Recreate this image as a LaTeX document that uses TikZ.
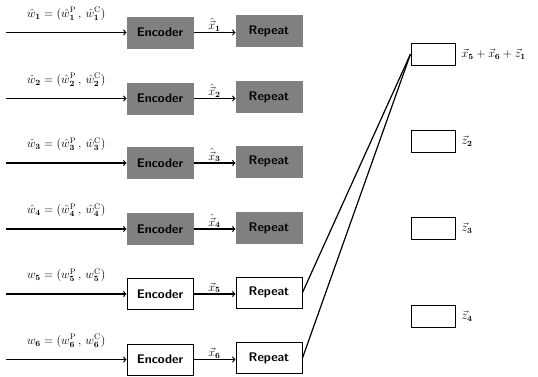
\documentclass[tikz,border=0pt]{standalone}
\usepackage{amsmath}
\usetikzlibrary{calc}
\begin{document}
\begin{tikzpicture}[x=1pt,y=-1pt,
  enc/.style={draw=black,line width=1pt,minimum width=66pt,minimum height=31pt,inner sep=0pt,font=\sffamily\bfseries\fontsize{12.5}{14}\selectfont},
  gray/.style={fill=black!50,draw=black!50},
  wht/.style={fill=white,draw=black},
  outbox/.style={draw=black,line width=1pt,minimum width=44pt,minimum height=22pt,inner sep=0pt},
  arr/.style={->,line width=1.2pt,>=to},
  lbl/.style={font=\fontsize{11.5}{13}\selectfont,inner sep=1pt},
  conn/.style={line width=1.2pt}]
\useasboundingbox (0,0) rectangle (538,376);
% rows
\foreach \i/\ye/\yr/\st in {1/32.5/31/gray,2/98.5/97/gray,3/163/161.5/gray,4/229/228/gray,5/294/292.5/wht,6/359.5/358/wht}{
  \node[enc,\st] (enc\i) at (160,\ye) {Encoder};
  \node[enc,\st] (rep\i) at (269,\yr) {Repeat};
  \coordinate (in\i) at (6,\ye);
  \draw[arr] (in\i) -- (enc\i.west);
  \draw[arr] (enc\i.east) -- (enc\i.east -| rep\i.west);
}
\foreach \i in {1,2,3,4}{
  \node[lbl,anchor=south] (xl\i) at ($(enc\i.east)!0.5!(enc\i.east -| rep\i.west)$) {$\hat{\vec{x}}_{\mathbf{\i}}$};
  \node[lbl,anchor=south] (wl\i) at ($(in\i)!0.5!(enc\i.west)+(0,-11)$) {$\hat{w}_{\mathbf{\i}}=(\hat{w}_{\mathbf{\i}}^{\mathrm{P}}\,,\,\hat{w}_{\mathbf{\i}}^{\mathrm{C}})$};
}
\foreach \i in {5,6}{
  \node[lbl,anchor=south] (xl\i) at ($(enc\i.east)!0.5!(enc\i.east -| rep\i.west)$) {$\vec{x}_{\mathbf{\i}}$};
  \node[lbl,anchor=south] (wl\i) at ($(in\i)!0.5!(enc\i.west)+(0,-11)$) {$w_{\mathbf{\i}}=(w_{\mathbf{\i}}^{\mathrm{P}}\,,\,w_{\mathbf{\i}}^{\mathrm{C}})$};
}
% right boxes
\node[outbox] (o1) at (433,54) {};
\node[outbox] (o2) at (433,141.5) {};
\node[outbox] (o3) at (433,228.5) {};
\node[outbox] (o4) at (433,316) {};
\node[lbl,anchor=west] (ol1) at ($(o1.east)+(5,0)$) {$\vec{x}_{\mathbf{5}}+\vec{x}_{\mathbf{6}}+\vec{z}_{\mathbf{1}}$};
\node[lbl,anchor=west] (ol2) at ($(o2.east)+(5,0)$) {$\vec{z}_{\mathbf{2}}$};
\node[lbl,anchor=west] (ol3) at ($(o3.east)+(5,0)$) {$\vec{z}_{\mathbf{3}}$};
\node[lbl,anchor=west] (ol4) at ($(o4.east)+(5,0)$) {$\vec{z}_{\mathbf{4}}$};
\draw[conn] (rep5.east) -- (o1.west);
\draw[conn] (rep6.east) -- (o1.west);
\end{tikzpicture}
\end{document}
